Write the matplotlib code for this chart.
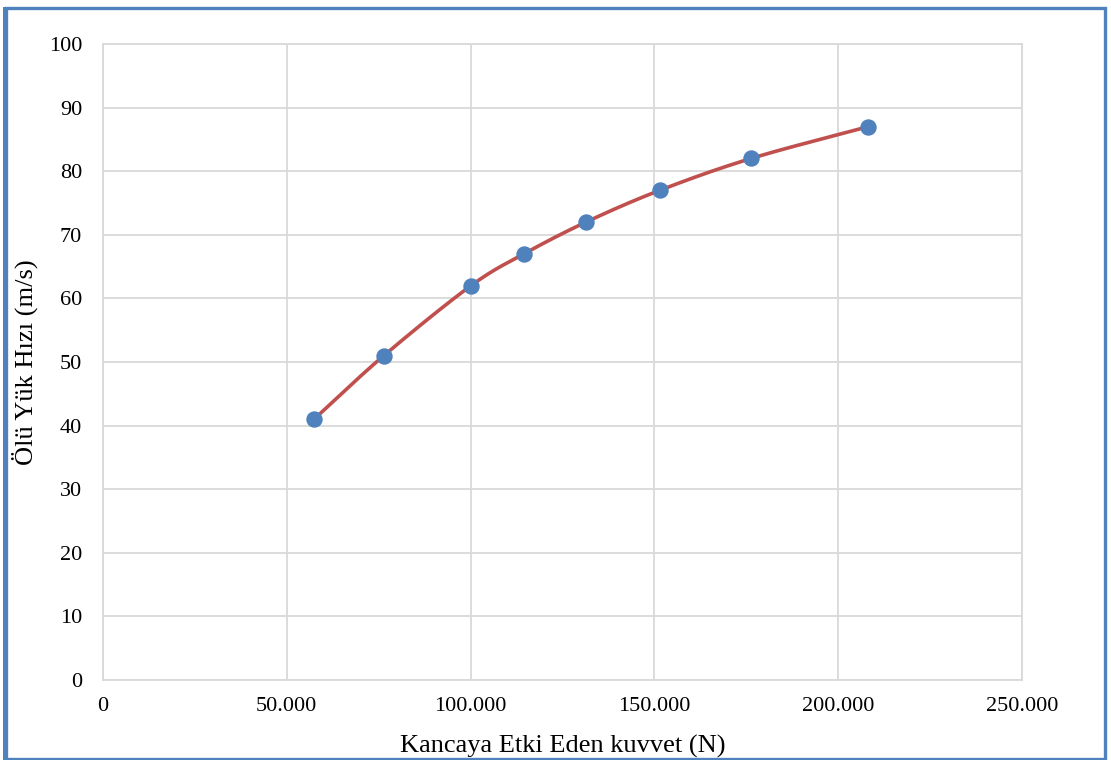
import numpy as np
import matplotlib.pyplot as plt
from matplotlib.patches import Rectangle
from matplotlib.ticker import FuncFormatter

plt.rcParams['font.family'] = ['Liberation Serif', 'DejaVu Serif']

# Hook force (N) vs dead-load speed (m/s)
force = [57400, 76400, 100100, 114500, 131400, 151500, 176300, 208100]
speed = [41, 51, 62, 67, 72, 77, 82, 87]

x_ticks = [0, 50000, 100000, 150000, 200000, 250000]
y_ticks = list(range(0, 101, 10))

line_col = '#C0504D'
marker_col = '#4F81BD'
grid_col = '#D9D9D9'


def smooth(xs, ys, n=30):
    # Catmull-Rom curve through the points, like a spreadsheet "smoothed line"
    p = np.column_stack([xs, ys]).astype(float)
    p = np.vstack([2 * p[0] - p[1], p, 2 * p[-1] - p[-2]])
    out = []
    t = np.linspace(0, 1, n)[:, None]
    for i in range(1, len(p) - 2):
        p0, p1, p2, p3 = p[i - 1], p[i], p[i + 1], p[i + 2]
        seg = 0.5 * ((2 * p1) + (-p0 + p2) * t
                     + (2 * p0 - 5 * p1 + 4 * p2 - p3) * t ** 2
                     + (-p0 + 3 * p1 - 3 * p2 + p3) * t ** 3)
        out.append(seg if i == 1 else seg[1:])
    out = np.vstack(out)
    return out[:, 0], out[:, 1]


fig = plt.figure(figsize=(11.11, 7.60), dpi=100)
ax = fig.add_axes([0.0927, 0.1053, 0.8272, 0.8368])

ax.set_axisbelow(True)
ax.grid(True, color=grid_col, linewidth=1.3)
for s in ax.spines.values():
    s.set_color(grid_col)
    s.set_linewidth(1.3)

sx, sy = smooth(force, speed)
ax.plot(sx, sy, color=line_col, linewidth=2.6, solid_capstyle='round', zorder=3)
ax.plot(force, speed, 'o', color=marker_col, markersize=10.8, zorder=4)

ax.set_xlim(0, 250000)
ax.set_ylim(0, 100)
ax.set_xticks(x_ticks)
ax.set_yticks(y_ticks)
ax.xaxis.set_major_formatter(FuncFormatter(lambda v, _: f'{int(v):,}'.replace(',', '.')))
ax.tick_params(length=0, labelsize=16)
ax.tick_params(axis='y', pad=15)
ax.tick_params(axis='x', pad=12)

ax.set_xlabel('Kancaya Etki Eden kuvvet (N)', fontsize=19, labelpad=14)
ax.set_ylabel('Ölü Yük Hızı (m/s)', fontsize=19, labelpad=8)

# chart frame
fig.patches.append(Rectangle((5.5 / 1111, 1.5 / 760), 1099 / 1111, 751 / 760,
                             transform=fig.transFigure, fill=False,
                             edgecolor=marker_col, linewidth=2.4))
fig.patches.append(Rectangle((3 / 1111, 0), 5 / 1111, 753 / 760,
                             transform=fig.transFigure, facecolor=marker_col,
                             edgecolor='none'))

fig.savefig('out.png', dpi=100)
